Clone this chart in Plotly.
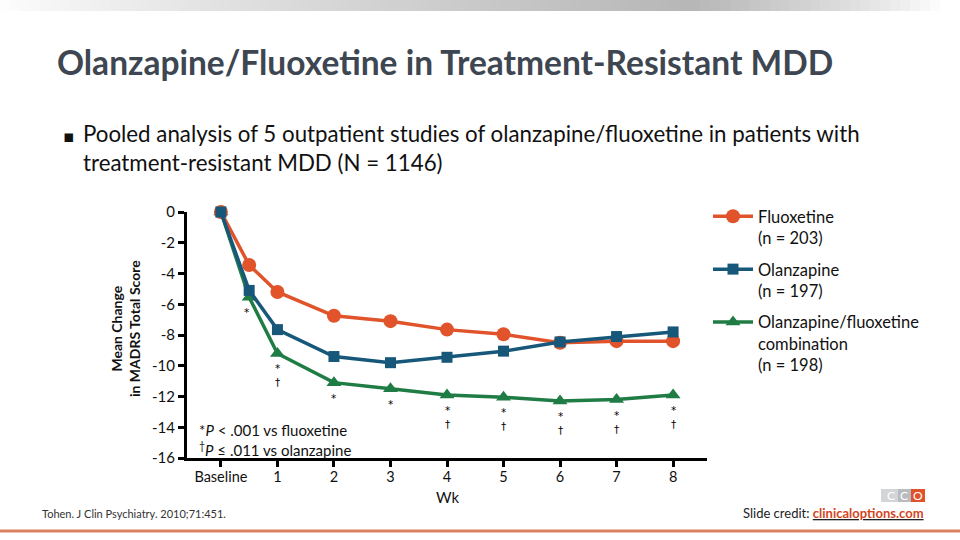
import plotly.graph_objects as go

# ---------------- data ----------------
weeks = [0, 0.5, 1, 2, 3, 4, 5, 6, 7, 8]
fluoxetine = [0, -3.45, -5.2, -6.75, -7.1, -7.65, -7.95, -8.5, -8.4, -8.4]
olanzapine = [0, -5.1, -7.65, -9.4, -9.8, -9.45, -9.05, -8.45, -8.1, -7.8]
combination = [0, -5.55, -9.2, -11.1, -11.5, -11.9, -12.05, -12.3, -12.2, -11.9]

x_tickvals = [0, 1, 2, 3, 4, 5, 6, 7, 8]
x_ticktext = ["Baseline", "1", "2", "3", "4", "5", "6", "7", "8"]
y_tickvals = [0, -2, -4, -6, -8, -10, -12, -14, -16]
y_ticktext = ["0", "-2", "-4", "-6", "-8", "-10", "-12", "-14", "-16"]

sig_weeks = [0.5, 1, 2, 3, 4, 5, 6, 7, 8]
sig_text = ["*", "*<br>†", "*", "*", "*<br>†", "*<br>†", "*<br>†", "*<br>†", "*<br>†"]

names = {
    "flu": "Fluoxetine<br>(n = 203)",
    "ola": "Olanzapine<br>(n = 197)",
    "comb": "Olanzapine/fluoxetine<br>combination<br>(n = 198)",
}

ORANGE = "#E0532B"
BLUE = "#17587A"
GREEN = "#1F7C45"
FONT = "Lato"

# plot area in pixels
L, R, T, B = 187, 707, 212, 458
W, H = 960, 540


def px(xp):
    return (xp - L) / (R - L)


def py(yp):
    return (B - yp) / (B - T)


fig = go.Figure()

fig.add_trace(go.Scatter(
    x=weeks, y=combination, name=names["comb"], mode="lines+markers",
    line=dict(color=GREEN, width=3.5),
    marker=dict(symbol="triangle-up", size=13, color=GREEN),
    legendrank=3, legendgroup="c", cliponaxis=False,
))
fig.add_trace(go.Scatter(
    x=weeks, y=fluoxetine, name=names["flu"], mode="lines+markers",
    line=dict(color=ORANGE, width=3.5),
    marker=dict(symbol="circle", size=14, color=ORANGE),
    legendrank=1, legendgroup="a", cliponaxis=False,
))
fig.add_trace(go.Scatter(
    x=weeks, y=olanzapine, name=names["ola"], mode="lines+markers",
    line=dict(color=BLUE, width=3.5),
    marker=dict(symbol="square", size=11, color=BLUE),
    legendrank=2, legendgroup="b", cliponaxis=False,
))

annotations = []

# significance markers below combination line
comb_lookup = dict(zip(weeks, combination))
for wk, txt in zip(sig_weeks, sig_text):
    annotations.append(dict(
        x=wk, y=comb_lookup[wk], xref="x", yref="y", text=txt,
        showarrow=False, yanchor="top", yshift=-7,
        xshift=-3 if wk == 0.5 else 0,
        font=dict(family="DejaVu Sans", size=10.5, color="#000000"),
    ))

# footnotes inside the plot
annotations.append(dict(
    x=px(197), y=py(430), xref="paper", yref="paper", xanchor="left", yanchor="middle",
    text="*<i>P</i> < .001 vs fluoxetine", showarrow=False,
    font=dict(family=FONT, size=15, color="#111111"),
))
annotations.append(dict(
    x=px(197), y=py(449), xref="paper", yref="paper", xanchor="left", yanchor="middle",
    text="<sup>†</sup><i>P</i> ≤ .011 vs olanzapine", showarrow=False,
    font=dict(family=FONT, size=15, color="#111111"),
))

# axis titles
annotations.append(dict(
    x=px(125), y=py(329), xref="paper", yref="paper", xanchor="center", yanchor="middle",
    text="<b>Mean Change<br>in MADRS Total Score</b>", textangle=-90, showarrow=False,
    font=dict(family=FONT, size=14, color="#111111"),
))
annotations.append(dict(
    x=4, y=py(497), xref="x", yref="paper", xanchor="center", yanchor="middle",
    text="Wk", showarrow=False,
    font=dict(family=FONT, size=15, color="#111111"),
))

# slide title and bullet
annotations.append(dict(
    x=px(55), y=py(62), xref="paper", yref="paper", xanchor="left", yanchor="middle",
    text="<b>Olanzapine/Fluoxetine in Treatment-Resistant MDD</b>", showarrow=False,
    font=dict(family=FONT, size=33.5, color="#3D4651"),
))
annotations.append(dict(
    x=px(61), y=py(136), xref="paper", yref="paper", xanchor="left", yanchor="middle",
    text="▪", showarrow=False,
    font=dict(family="DejaVu Sans", size=17, color="#111111"),
))
annotations.append(dict(
    x=px(81), y=py(148), xref="paper", yref="paper", xanchor="left", yanchor="middle",
    align="left",
    text="Pooled analysis of 5 outpatient studies of olanzapine/fluoxetine in patients with<br>"
         "treatment-resistant MDD (N = 1146)",
    showarrow=False,
    font=dict(family=FONT, size=22.3, color="#111111"),
))

# footer
annotations.append(dict(
    x=px(40), y=py(513), xref="paper", yref="paper", xanchor="left", yanchor="middle",
    text="Tohen. J Clin Psychiatry. 2010;71:451.", showarrow=False,
    font=dict(family=FONT, size=11, color="#333333"),
))
annotations.append(dict(
    x=px(926), y=py(513), xref="paper", yref="paper", xanchor="right", yanchor="middle",
    text="Slide credit: <u><b><span style='color:#D2461E'>clinicaloptions.com</span></b></u>",
    showarrow=False,
    font=dict(family=FONT, size=13, color="#222222"),
))
# logo letters
for lx, lt in [(891, "C"), (904, "C"), (918, "O")]:
    annotations.append(dict(
        x=px(lx), y=py(495), xref="paper", yref="paper", xanchor="center", yanchor="middle",
        text=lt, showarrow=False,
        font=dict(family=FONT, size=12, color="#FFFFFF"),
    ))

shapes = []
# top gradient band
n_strips = 96
for i in range(n_strips):
    x0 = i * W / n_strips
    x1 = (i + 1) * W / n_strips
    t = (x0 + x1) / 2 / W
    peak = 0.72
    if t < peak:
        k = (t / peak) ** 0.8
    else:
        k = ((0.98 - t) / (0.98 - peak)) ** 0.8 if t < 0.98 else 0.0
    g = int(255 - 72 * max(0.0, min(1.0, k)))
    shapes.append(dict(
        type="rect", xref="paper", yref="paper",
        x0=px(x0), x1=px(x1 + 0.5), y0=py(11), y1=py(0),
        line=dict(width=0), fillcolor=f"rgb({g},{g},{g})", layer="below",
    ))
# bottom orange rule
shapes.append(dict(
    type="line", xref="paper", yref="paper", x0=px(0), x1=px(960), y0=py(531), y1=py(531),
    line=dict(color="#DB8361", width=3),
))
# logo boxes
shapes.append(dict(type="rect", xref="paper", yref="paper", x0=px(881), x1=px(898),
                   y0=py(502), y1=py(489), line=dict(width=0), fillcolor="#D3D5D7"))
shapes.append(dict(type="rect", xref="paper", yref="paper", x0=px(898), x1=px(911),
                   y0=py(502), y1=py(489), line=dict(width=0), fillcolor="#B9BCBF"))
shapes.append(dict(type="rect", xref="paper", yref="paper", x0=px(911), x1=px(925),
                   y0=py(502), y1=py(489), line=dict(width=0), fillcolor="#E0522A"))

fig.update_layout(
    width=W, height=H,
    margin=dict(l=L, r=W - R, t=T, b=H - B, pad=0),
    paper_bgcolor="white", plot_bgcolor="white",
    font=dict(family=FONT, color="#111111"),
    showlegend=True,
    legend=dict(
        x=px(708), y=py(199), xanchor="left", yanchor="top",
        font=dict(family=FONT, size=16.5, color="#111111"),
        valign="top", traceorder="grouped", tracegroupgap=7,
        itemwidth=40, bgcolor="rgba(0,0,0,0)",
    ),
    xaxis=dict(
        range=[-0.6, 8.6], tickvals=x_tickvals, ticktext=x_ticktext,
        showline=True, linecolor="#000000", linewidth=3,
        ticks="outside", ticklen=6, tickwidth=3, tickcolor="#000000",
        ticklabelstandoff=-2,
        showgrid=False, zeroline=False,
        tickfont=dict(family=FONT, size=14.5, color="#111111"),
    ),
    yaxis=dict(
        range=[-16, 0], tickvals=y_tickvals, ticktext=y_ticktext,
        showline=True, linecolor="#000000", linewidth=3,
        ticks="outside", ticklen=6, tickwidth=3, tickcolor="#000000",
        showgrid=False, zeroline=False,
        tickfont=dict(family=FONT, size=15, color="#111111"),
    ),
    annotations=annotations,
    shapes=shapes,
)

fig.write_html("out.html")
